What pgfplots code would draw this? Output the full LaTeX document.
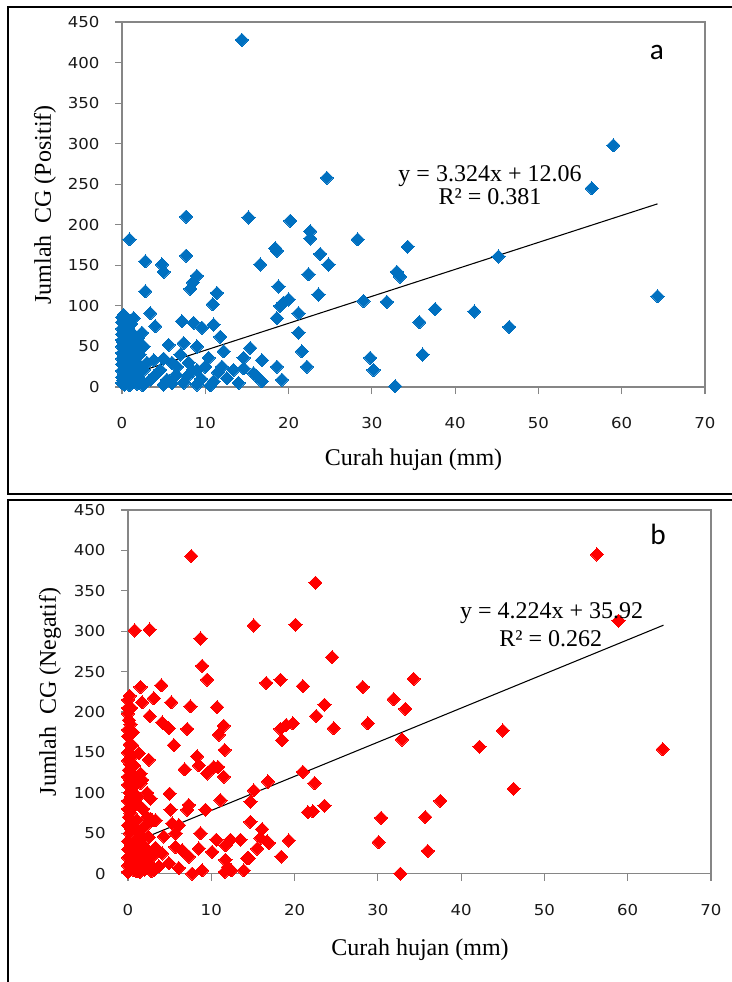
\documentclass[border=0pt]{standalone}
\usepackage{fontspec}
\setmainfont{Liberation Serif}
\newfontfamily\tickfont{DejaVu Sans}
\newfontfamily\labfont{Carlito}
\usepackage{pgfplots}
\pgfplotsset{compat=1.18}
\definecolor{ptblue}{RGB}{0,112,192}
\definecolor{ptred}{RGB}{255,0,0}
\definecolor{axgray}{RGB}{134,134,134}
\pgfplotsset{excel/.style={
  scale only axis, width=437.25pt,
  xmin=0, xmax=70, ymin=0, ymax=450,
  xtick={0,10,...,70}, ytick={0,50,...,450},
  axis line style={draw=axgray, line width=0.9pt},
  tick style={draw=axgray, line width=0.9pt},
  tick align=outside, major tick length=5.25pt, tick pos=left,
  /pgf/number format/assume math mode=true,
  tick label style={font=\tickfont\fontsize{11.3}{13}\selectfont, text=black!90, xscale=1.1},
  xticklabel style={anchor=center, yshift=-21.8pt},
  yticklabel style={anchor=east, xshift=-7pt},
  clip=false,
}}

\pgfplotstableread{
x y
14.4 428
24.6 258
7.7 210
15.2 209
20.2 205
22.6 192
22.6 183
28.3 182
0.9 182
18.4 171
59 298
56.4 245
34.3 173
45.2 161
33 142
33.4 136
31.8 105
37.6 96
42.3 93
35.7 80
46.5 74
36.1 40
32.8 1
64.3 112
2.8 155
4.8 151
5.0 142
7.7 162
2.8 118
9.0 137
8.5 129
8.2 121
11.4 116
10.9 102
3.4 91
4.0 75
7.2 81
8.6 79
9.6 73
11.0 77
11.8 62
12.2 44
5.6 52
7.4 54
9.0 50
10.4 36
1.4 85
0.2 89
16.6 151
18.6 168
18.8 124
19.0 100
19.4 104
20.0 108
18.6 85
21.2 91
21.2 67
21.6 44
22.2 25
22.4 139
23.6 114
23.8 164
24.8 151
29.0 106
29.8 36
30.2 21
15.4 48
14.6 36
16.8 33
13.4 21
15.8 17
18.6 25
19.2 9
14.0 5
16.8 7
12.6 11
11.0 7
14.6 23
16.2 13
9.0 21
6.6 25
4.6 21
3.4 9
7.4 5
10.6 2
7.8 13
5.4 9
2.4 67
2.6 50
1.2 42
3.8 33
2.6 21
5 35
6 30
6.5 15
7 40
8 30
8.5 20
9.5 10
10 25
6 5
4 15
3 30
5 3
9 3
12 25
11.5 18
0 5
0 12
0 20
0 28
0 35
0 42
0 50
0 58
0 65
0 72
0 80
0 86
0.3 3
0.3 15
0.3 25
0.3 38
0.3 47
0.3 60
0.3 70
0.3 78
0.6 8
0.6 18
0.6 30
0.6 45
0.6 55
0.6 66
0.6 84
0.9 2
0.9 12
0.9 24
0.9 35
0.9 50
0.9 62
1.2 6
1.2 18
1.2 30
1.5 10
1.5 22
1.5 35
1.5 55
1.8 4
1.8 15
2 28
2.1 40
2.3 8
2.5 2
0.15 8
0.15 33
0.15 55
0.45 20
0.45 52
0.45 75
0.75 40
0.75 72
1.05 45
1.35 65
1.1 78
1.7 48
0.2 65
1.9 60
}\datapos

\pgfplotstableread{
x y
7.6 393
22.5 360
0.8 301
2.6 302
15.1 307
20.1 308
8.7 291
8.9 257
9.5 240
24.5 268
16.6 236
18.3 240
21.0 232
28.2 231
1.5 231
4.0 233
1.7 212
3.1 217
5.2 212
7.5 207
10.7 206
23.6 209
22.6 195
2.6 195
4.1 187
4.9 180
7.1 179
11.5 183
24.7 180
18.3 179
19.0 184
19.8 186
10.9 172
28.8 186
56.3 395
58.9 313
34.3 241
31.9 216
33.3 204
32.9 166
45.0 177
42.2 157
64.2 154
46.3 105
37.5 90
30.4 69
35.7 70
36.0 28
30.1 39
32.7 0
18.5 165
21.0 126
22.4 112
16.8 114
15.1 103
14.7 89
21.6 76
22.2 77
23.6 84
14.7 64
16.1 55
15.5 31
16.7 40
19.3 41
18.4 21
14.5 19
0.5 159
1.3 149
0.7 134
2.5 141
1.5 124
1.7 116
2.7 93
5.0 99
5.5 159
6.8 129
8.3 145
8.5 134
9.5 124
10.3 132
10.8 132
11.6 153
11.5 120
5.1 79
7.3 85
7.1 79
9.3 79
11.1 91
15.9 44
16.9 38
8.7 50
10.6 42
11.7 35
12.3 42
13.5 42
14.3 19
13.9 4
11.7 17
12.0 8
11.6 2
12.4 4
10.1 27
8.5 31
8.9 4
7.7 0
7.3 21
6.1 7
4.9 13
4.3 46
5.7 50
5.7 33
6.5 29
4.1 25
3.7 9
5.3 62
6.1 60
2.7 68
3.3 66
1.1 87
0.9 120
0.7 99
1.5 112
2.3 100
2.3 70
2.9 66
1.1 66
0.7 83
0 215
0 205
0 198
0.1 190
0 178
0 170
0.2 160
0 150
0 140
0.1 128
0 120
0 110
0.2 100
0 90
0 80
0.1 70
0 60
0.2 50
0 40
0 30
0 20
0 10
0 2
0.3 185
0.4 205
0.3 115
0.4 95
0.3 75
0.4 55
0.6 5
0.6 15
0.6 28
1 3
1 20
1.2 35
1.5 10
1.6 25
2 5
2 18
2.2 30
2.5 12
2.8 3
3 22
3.3 32
0.8 40
1.6 45
1.0 55
2.0 58
0.5 65
0.5 145
0.9 110
1.2 95
0.3 135
0.6 175
0.2 220
1.8 80
1.3 42
2.5 45
0.9 30
1.8 35
2.7 25
3.2 5
0.4 35
0.3 12
1.4 2
2.2 10
}\dataneg

\begin{document}
\begin{tikzpicture}[x=0.75pt,y=0.75pt]
\useasboundingbox (0,0) rectangle (732,-982);
\coordinate (PA) at (122,-387);
\coordinate (PB) at (128,-873.6);
% frames
\draw[line width=1.5pt] (740,-7) -- (8,-7) -- (8,-494) -- (740,-494);
\draw[line width=1.5pt] (740,-500) -- (8,-500) -- (8,-990);

% panel a
\begin{axis}[excel, at={(PA)}, anchor=south west, height=273.75pt]
\addplot[only marks, mark=square*, mark size=3.5pt,
  mark options={rotate=45, fill=ptblue, draw=ptblue, line width=0pt}]
  table[x=x,y=y] {\datapos};
\addplot[black, line width=0.8pt] coordinates {(0,12.06) (64.3,225.8)};
\end{axis}

% panel b
\begin{axis}[excel, at={(PB)}, anchor=south west, height=272.7pt]
\addplot[only marks, mark=square*, mark size=3.5pt,
  mark options={rotate=45, fill=ptred, draw=ptred, line width=0pt}]
  table[x=x,y=y] {\dataneg};
\addplot[black, line width=0.8pt] coordinates {(0,35.92) (64.3,307.5)};
\end{axis}

% texts
\node[font=\fontsize{18}{20}\selectfont] at (413.5,-460) {Curah hujan (mm)};
\node[font=\fontsize{18}{20}\selectfont, rotate=90] at (45,-205) {Jumlah~ CG (Positif)};
\node[font=\fontsize{18}{20}\selectfont] at (420,-950) {Curah hujan (mm)};
\node[font=\fontsize{18}{20}\selectfont, rotate=90] at (50,-692) {Jumlah~ CG (Negatif)};

\node[font=\fontsize{18}{14.25}\selectfont, align=center, inner sep=0pt] at (490,-185) {y = 3.324x + 12.06\\R² = 0.381};
\node[font=\fontsize{18}{20}\selectfont] at (551.7,-613.3) {y = 4.224x + 35.92};
\node[font=\fontsize{18}{20}\selectfont] at (550.8,-639) {R² = 0.262};

\node[font=\labfont\fontsize{22}{24}\selectfont] at (657,-52) {a};
\node[font=\labfont\fontsize{22}{24}\selectfont] at (658,-534) {b};
\end{tikzpicture}
\end{document}
